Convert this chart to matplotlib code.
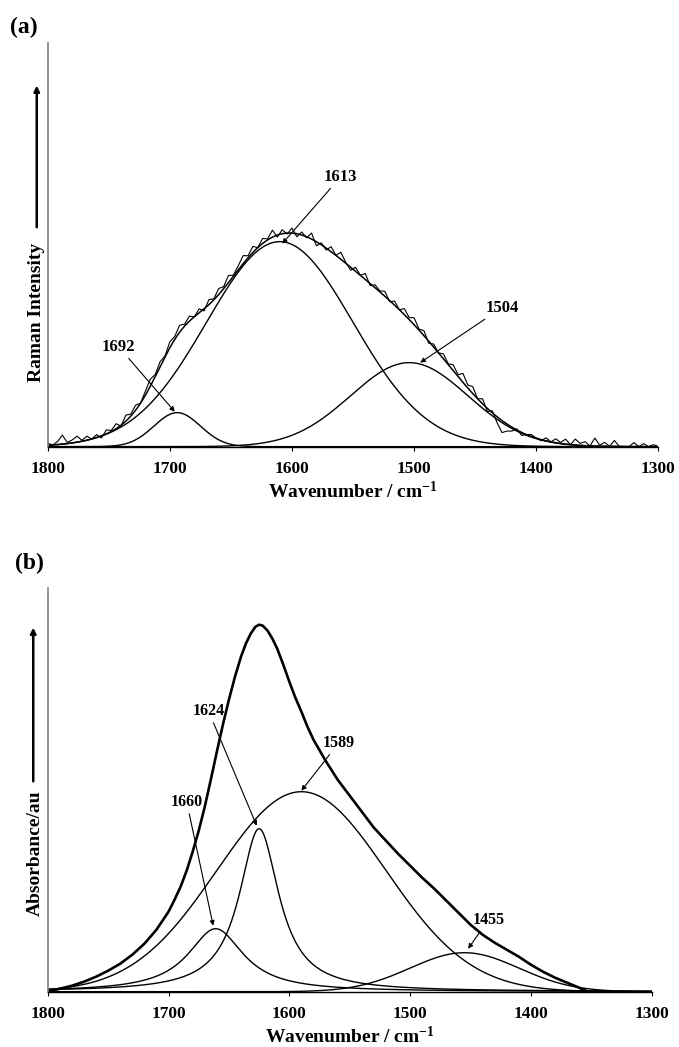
import numpy as np
import matplotlib.pyplot as plt

plt.rcParams['font.family'] = ['Liberation Serif', 'DejaVu Serif']
plt.rcParams['font.weight'] = 'bold'
plt.rcParams['mathtext.fontset'] = 'custom'
plt.rcParams['mathtext.rm'] = 'Liberation Serif:bold'
plt.rcParams['mathtext.it'] = 'Liberation Serif:bold'
plt.rcParams['mathtext.bf'] = 'Liberation Serif:bold'

# (a) Raman: fitted gaussian bands (centre, height, sigma)
raman_centers = [1694, 1610, 1504]
raman_heights = [0.34, 2.05, 0.84]
raman_sigmas = [19, 60, 48]

# measured minus fit, every 4 cm-1 from 1800 down to 1300
raman_resid = [
    2, 0, 3, 9, 1, 3, 6, 1, 4, 0, 3, -2, 4, 1, 5, -1, 6, 2, 5, 0,
    4, 7, 2, 5, 1, 6, 3, 7, 2, 5, 0, 4, -2, 5, 1, 6, 2, 7, 1, 4,
    8, 2, 6, 0, 5, 1, 7, -2, 4, -1, 5, -3, 3, -1, 6, -4, 2, -2, 5, 0,
    7, 1, -3, 4, 0, 6, -2, 3, 1, 5, -1, 4, 0, 6, 2, 7, 1, 5, -2, 3,
    0, 5, 1, 6, 2, 9, 3, 7, 0, 5, -3, 2, -6, -12, -7, -4, 1, -3, 0, 2,
    0, -1, 3, 0, 4, 1, 5, 0, 6, 2, 4, 0, 8, 1, 4, 0, 6, 0, 0, 0,
    4, 0, 3, 0, 2, 0,
]

# (b) FTIR: fitted bands (centre, height, width, profile)
ftir_centers = [1661, 1625, 1590, 1455]
ftir_heights = [0.63, 1.63, 2.00, 0.39]
ftir_widths = [28, 20, 70, 45]
ftir_shapes = ['lorentz', 'lorentz', 'gauss', 'gauss']

ftir_wn = [1800, 1790, 1780, 1770, 1760, 1750, 1740, 1730, 1720, 1710,
           1700, 1695, 1690, 1685, 1680, 1675, 1670, 1665, 1660, 1655,
           1650, 1645, 1640, 1636, 1632, 1628, 1625, 1622, 1618, 1614,
           1610, 1605, 1600, 1595, 1590, 1585, 1580, 1570, 1560, 1550,
           1540, 1530, 1520, 1510, 1500, 1490, 1480, 1470, 1460, 1450,
           1440, 1430, 1420, 1410, 1400, 1390, 1380, 1370, 1360, 1353]
ftir_abs = [0.00, 0.03, 0.06, 0.10, 0.15, 0.21, 0.28, 0.37, 0.48, 0.62,
            0.80, 0.92, 1.05, 1.21, 1.40, 1.61, 1.85, 2.12, 2.40, 2.67,
            2.92, 3.15, 3.35, 3.48, 3.58, 3.65, 3.67, 3.66, 3.61, 3.53,
            3.43, 3.27, 3.10, 2.94, 2.80, 2.65, 2.52, 2.31, 2.12, 1.96,
            1.80, 1.64, 1.51, 1.38, 1.26, 1.14, 1.03, 0.91, 0.79, 0.67,
            0.57, 0.49, 0.42, 0.35, 0.27, 0.20, 0.14, 0.09, 0.04, 0.00]


def gauss(x, c, h, s):
    return h * np.exp(-(x - c) ** 2 / (2 * s ** 2))


def lorentz(x, c, h, w):
    return h / (1 + ((x - c) / w) ** 2)


def style(ax, top):
    ax.set_xlim(1800, 1300)
    ax.set_ylim(0, top)
    ax.spines['top'].set_visible(False)
    ax.spines['right'].set_visible(False)
    ax.spines['left'].set_color('#808080')
    ax.spines['left'].set_linewidth(1.2)
    ax.spines['bottom'].set_linewidth(1.0)
    ax.set_yticks([])
    ax.set_xticks([1800, 1700, 1600, 1500, 1400, 1300])
    ax.tick_params(axis='x', direction='out', length=3, width=0.8, pad=7, labelsize=12.5)
    ax.set_xlabel('Wavenumber / cm$^{-1}$', fontsize=14, fontweight='bold', labelpad=3)


arrow_kw = dict(arrowstyle='-|>', color='black', lw=0.8, mutation_scale=7, shrinkA=1, shrinkB=0)

fig = plt.figure(figsize=(6.79, 10.47), dpi=100)
ax1 = fig.add_axes([0.0703, 0.5734, 0.8993, 0.3853])
ax2 = fig.add_axes([0.0703, 0.0528, 0.8895, 0.3859])

# ---- (a)
x = np.linspace(1800, 1300, 1001)
fit = np.zeros_like(x)
for c, h, s in zip(raman_centers, raman_heights, raman_sigmas):
    y = gauss(x, c, h, s)
    fit += y
    ax1.plot(x, y, color='black', lw=1.0)
ax1.plot(x, fit, color='black', lw=1.1)

xm = np.linspace(1800, 1300, len(raman_resid))
meas = np.zeros_like(xm)
for c, h, s in zip(raman_centers, raman_heights, raman_sigmas):
    meas += gauss(xm, c, h, s)
meas = np.clip(meas + np.array(raman_resid) / 100.0, 0, None)
ax1.plot(xm, meas, color='black', lw=0.8)
style(ax1, 4.034)

ax1.annotate('1613', xy=(1608, 2.03), xytext=(1560, 2.70), ha='center', va='center',
             fontsize=12, arrowprops=arrow_kw)
ax1.annotate('1692', xy=(1696, 0.35), xytext=(1742, 1.00), ha='center', va='center',
             fontsize=12, arrowprops=arrow_kw)
ax1.annotate('1504', xy=(1495, 0.84), xytext=(1428, 1.39), ha='center', va='center',
             fontsize=12, arrowprops=arrow_kw)

ax1.text(-0.018, 0.3325, 'Raman Intensity', rotation=90, ha='center', va='center',
         transform=ax1.transAxes, fontsize=14)
ax1.annotate('', xy=(-0.018, 0.902), xytext=(-0.018, 0.537), xycoords='axes fraction',
             arrowprops=dict(arrowstyle='-|>', color='black', lw=1.8, mutation_scale=8),
             annotation_clip=False)

# ---- (b)
for c, h, w, shp in zip(ftir_centers, ftir_heights, ftir_widths, ftir_shapes):
    f = lorentz if shp == 'lorentz' else gauss
    ax2.plot(x, f(x, c, h, w), color='black', lw=1.0)
ax2.plot(ftir_wn, ftir_abs, color='black', lw=1.9, solid_joinstyle='round')
style(ax2, 4.04)

ax2.annotate('1624', xy=(1627, 1.66), xytext=(1667, 2.81), ha='center', va='center',
             fontsize=11.5, arrowprops=arrow_kw)
ax2.annotate('1589', xy=(1590, 2.01), xytext=(1559, 2.49), ha='center', va='center',
             fontsize=11.5, arrowprops=arrow_kw)
ax2.annotate('1660', xy=(1663, 0.66), xytext=(1685, 1.90), ha='center', va='center',
             fontsize=11.5, arrowprops=arrow_kw)
ax2.annotate('1455', xy=(1452, 0.43), xytext=(1435, 0.72), ha='center', va='center',
             fontsize=11.5, arrowprops=arrow_kw)

ax2.text(-0.021, 0.3433, 'Absorbance/au', rotation=90, ha='center', va='center',
         transform=ax2.transAxes, fontsize=14)
ax2.annotate('', xy=(-0.024, 0.908), xytext=(-0.024, 0.514), xycoords='axes fraction',
             arrowprops=dict(arrowstyle='-|>', color='black', lw=1.8, mutation_scale=8),
             annotation_clip=False)

fig.text(10 / 679, 1 - 27 / 1047, '(a)', fontsize=17, ha='left', va='center')
fig.text(15 / 679, 1 - 563 / 1047, '(b)', fontsize=17, ha='left', va='center')

fig.savefig('out.png', dpi=100, facecolor='white')
